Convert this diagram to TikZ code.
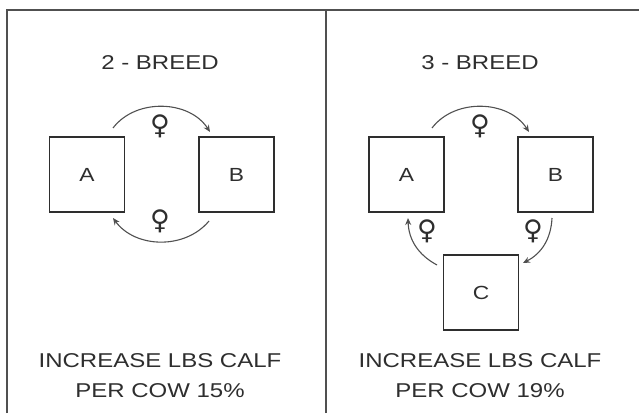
\documentclass[tikz,border=0pt]{standalone}
\usepackage{fontspec}
\setmainfont{Liberation Sans}
\newfontfamily\wide[FakeStretch=1.2]{Liberation Sans}
\newfontfamily\symfont{DejaVu Sans}
\usetikzlibrary{arrows.meta}
\definecolor{ink}{HTML}{2E2E2E}
\definecolor{frame}{HTML}{505050}
\definecolor{arc}{HTML}{505050}
\begin{document}
\begin{tikzpicture}[x=1pt,y=1pt,
  boxnode/.style={draw=ink,line width=1.1pt,minimum width=75pt,minimum height=75pt,inner sep=0pt,font=\wide\fontsize{19}{22}\selectfont,text=ink},
  label/.style={font=\wide\fontsize{20}{24}\selectfont,text=ink,align=center,inner sep=0pt},
  fem/.style={font=\symfont\fontsize{27}{27}\selectfont,text=ink,inner sep=0pt},
  flow/.style={draw=arc,line width=1.1pt,-{Stealth[length=7pt,width=6pt]}}]
\useasboundingbox (0,0) rectangle (639,413);
% frame
\draw[frame,line width=1.5pt] (7,0) -- (7,403) -- (639,403);
\draw[frame,line width=1.5pt] (326,0) -- (326,403);

% ---- left panel
\node[label] (t1) at (160,350) {2 - BREED};
\node[boxnode] (A1) at (87,238.5) {A};
\node[boxnode] (B1) at (236.5,238.5) {B};
\coordinate (a1s) at (113,285);
\coordinate (a1e) at (210,281);
\coordinate (b1s) at (209,192);
\coordinate (b1e) at (113,195);
\draw[flow] (a1s) to[bend left=55] (a1e);
\draw[flow] (b1s) to[bend left=52] (b1e);
\node[fem] (f1) at (160,287) {♀};
\node[fem] (f2) at (160,192) {♀};
\node[label] (r1) at (160,37) {INCREASE LBS CALF\\[6pt]PER COW 15\%};

% ---- right panel
\node[label] (t2) at (480,350) {3 - BREED};
\node[boxnode] (A2) at (406.5,238.5) {A};
\node[boxnode] (B2) at (555.5,238.5) {B};
\node[boxnode] (C2) at (481,120.5) {C};
\coordinate (a2s) at (432,285);
\coordinate (a2e) at (529,281);
\coordinate (b2s) at (552,195);
\coordinate (b2e) at (523,150);
\coordinate (c2s) at (437,148);
\coordinate (c2e) at (408,195);
\draw[flow] (a2s) to[bend left=55] (a2e);
\draw[flow] (b2s) to[bend left=30] (b2e);
\draw[flow] (c2s) to[bend left=30] (c2e);
\node[fem] (f3) at (480,287) {♀};
\node[fem] (f4) at (427,182) {♀};
\node[fem] (f5) at (533,182) {♀};
\node[label] (r2) at (480,37) {INCREASE LBS CALF\\[6pt]PER COW 19\%};
\end{tikzpicture}
\end{document}
